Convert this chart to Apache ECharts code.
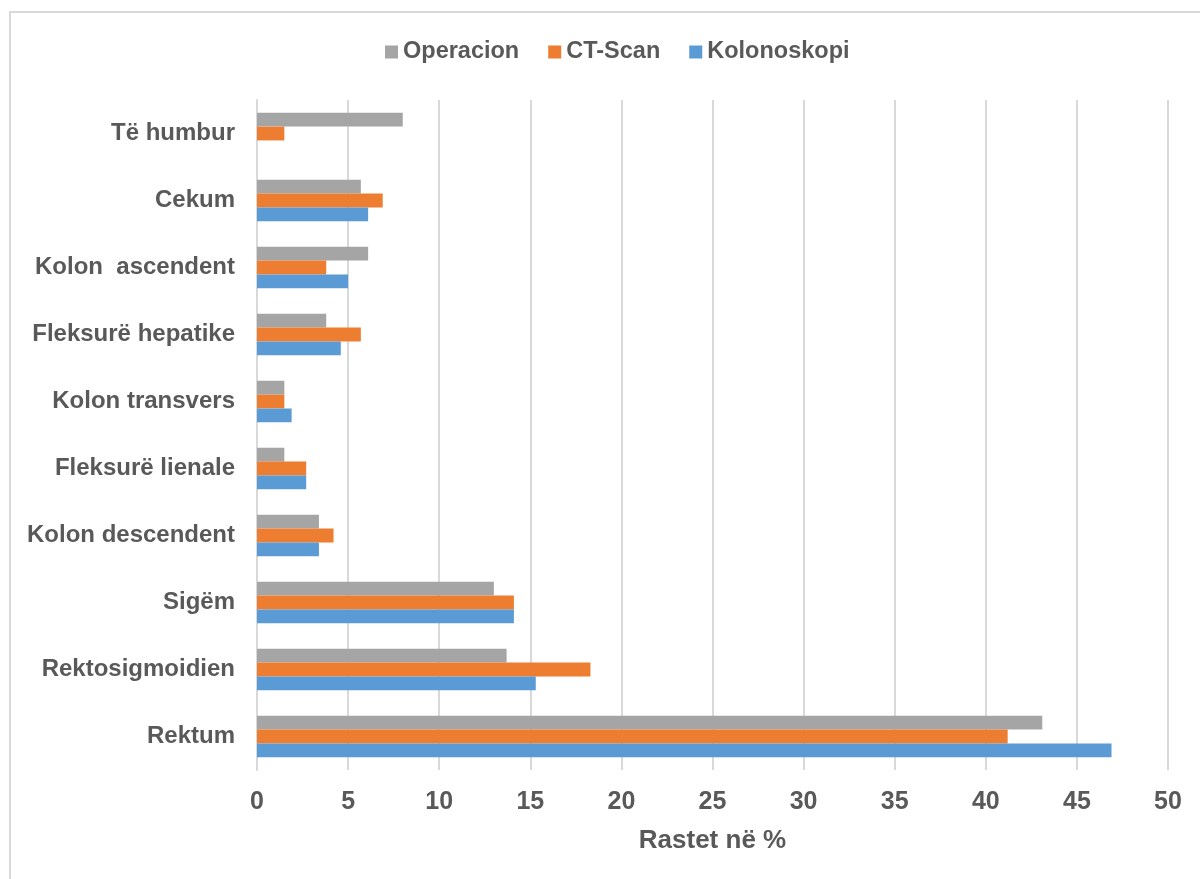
<!DOCTYPE html>
<html>
<head>
<meta charset="utf-8">
<script src="https://cdn.jsdelivr.net/npm/echarts@6/dist/echarts.min.js"></script>
<style>
  html, body { margin: 0; padding: 0; background: #ffffff; }
  #chart { width: 1200px; height: 879px; }
</style>
</head>
<body>
<div id="chart"></div>
<script>
// Localisation of tumours, shown top to bottom
const categories = [
  'Të humbur', 'Cekum', 'Kolon  ascendent', 'Fleksurë hepatike', 'Kolon transvers',
  'Fleksurë lienale', 'Kolon descendent', 'Sigëm', 'Rektosigmoidien', 'Rektum'
];
const operacion   = [8.0, 5.7, 6.1, 3.8, 1.5, 1.5, 3.4, 13.0, 13.7, 43.1];
const ctScan      = [1.5, 6.9, 3.8, 5.7, 1.5, 2.7, 4.2, 14.1, 18.3, 41.2];
const kolonoskopi = [0,   6.1, 5.0, 4.6, 1.9, 2.7, 3.4, 14.1, 15.3, 46.9];
const xTicks = { min: 0, max: 50, interval: 5 };

const textColor = '#595959';
const gridColor = '#D9D9D9';
const font = 'Liberation Sans, Arial, sans-serif';

const chart = echarts.init(document.getElementById('chart'), null, { renderer: 'canvas' });

chart.setOption({
  backgroundColor: '#ffffff',
  animation: false,
  graphic: [{
    type: 'rect',
    shape: { x: 10, y: 12, width: 1250, height: 950 },
    style: { fill: 'none', stroke: gridColor, lineWidth: 2 },
    silent: true
  }],
  legend: {
    top: 35,
    left: 380,
    itemWidth: 13,
    itemHeight: 13,
    itemGap: 29,
    icon: 'rect',
    data: ['Operacion', 'CT-Scan', 'Kolonoskopi'],
    textStyle: { color: textColor, fontSize: 23.5, fontWeight: 'bold', fontFamily: font }
  },
  grid: { left: 257, right: 32, top: 100, bottom: 109, containLabel: false },
  xAxis: {
    type: 'value',
    min: xTicks.min,
    max: xTicks.max,
    interval: xTicks.interval,
    name: 'Rastet në %',
    nameLocation: 'middle',
    nameGap: 58,
    nameTextStyle: { color: textColor, fontSize: 26, fontWeight: 'bold', fontFamily: font },
    axisLine: { show: false },
    axisTick: { show: false },
    axisLabel: { color: textColor, fontSize: 25, fontWeight: 'bold', fontFamily: font, margin: 20 },
    splitLine: { show: true, lineStyle: { color: gridColor, width: 2 } }
  },
  yAxis: {
    type: 'category',
    inverse: true,
    data: categories,
    axisLine: { show: true, lineStyle: { color: gridColor, width: 2 } },
    axisTick: { show: false },
    axisLabel: { color: textColor, fontSize: 24, fontWeight: 'bold', fontFamily: font, margin: 22 }
  },
  series: [
    {
      name: 'Operacion', type: 'bar', data: operacion,
      barGap: '0%', barCategoryGap: '38%',
      itemStyle: { color: '#A5A5A5' }
    },
    {
      name: 'CT-Scan', type: 'bar', data: ctScan,
      barGap: '0%', barCategoryGap: '38%',
      itemStyle: { color: '#ED7D31' }
    },
    {
      name: 'Kolonoskopi', type: 'bar', data: kolonoskopi,
      barGap: '0%', barCategoryGap: '38%',
      itemStyle: { color: '#5B9BD5' }
    }
  ]
});
</script>
</body>
</html>
